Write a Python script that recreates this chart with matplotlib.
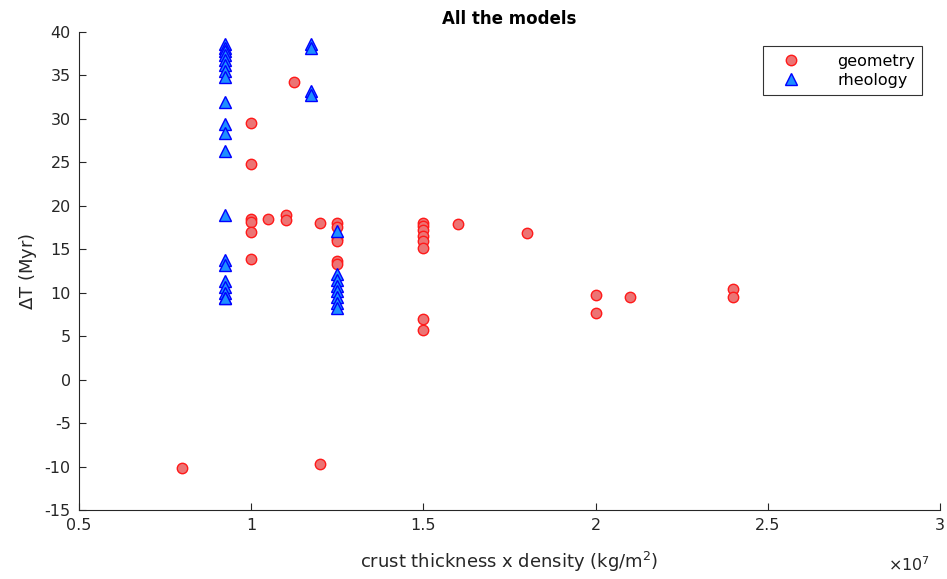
import numpy as np
import matplotlib.pyplot as plt
from matplotlib.ticker import FuncFormatter, MultipleLocator

# geometry runs: crust thickness x density (kg/m2), delta T (Myr)
geom_x = [0.8e7, 1.2e7,
          1.0e7, 1.0e7, 1.0e7, 1.0e7, 1.0e7, 1.0e7,
          1.05e7, 1.1e7, 1.1e7, 1.125e7, 1.2e7,
          1.25e7, 1.25e7, 1.25e7, 1.25e7, 1.25e7, 1.25e7,
          1.5e7, 1.5e7, 1.5e7, 1.5e7, 1.5e7, 1.5e7, 1.5e7, 1.5e7,
          1.6e7, 1.8e7, 2.0e7, 2.0e7, 2.1e7, 2.4e7, 2.4e7]
geom_dt = [-10.2, -9.7,
           29.5, 24.8, 18.5, 18.2, 17.0, 13.9,
           18.5, 18.9, 18.4, 34.2, 18.0,
           18.0, 17.6, 16.2, 16.0, 13.7, 13.3,
           18.0, 17.7, 17.2, 16.5, 16.0, 15.2, 7.0, 5.7,
           17.9, 16.9, 9.8, 7.7, 9.5, 10.4, 9.5]

# rheology runs
rheo_x = [0.925e7] * 20 + [1.175e7] * 4 + [1.25e7] * 8
rheo_dt = [38.6, 38.2, 37.8, 37.3, 36.8, 36.2, 35.5, 34.8,
           32.0, 29.4, 28.4, 26.3, 19.0,
           13.8, 13.2, 11.4, 10.7, 10.0, 9.4, 9.4,
           38.6, 38.2, 33.2, 32.7,
           17.1, 12.2, 11.5, 10.8, 10.2, 9.5, 8.8, 8.3]

plt.rcParams['font.family'] = 'DejaVu Sans'
gray = '#262626'

fig = plt.figure(figsize=(9.47, 5.79), dpi=100)
ax = fig.add_axes([0.0834, 0.119, 0.9092, 0.8257])

ax.plot(geom_x, geom_dt, 'o', ms=7.5, mfc='#ec7474', mec='#ff1a1a', mew=1.0,
        label='geometry', zorder=3)
ax.plot(rheo_x, rheo_dt, '^', ms=8, mfc='#1e8fff', mec='#0000ff', mew=1.0,
        label='rheology', zorder=3)

ax.set_xlim(0.5e7, 3.0e7)
ax.set_ylim(-15, 40)
ax.xaxis.set_major_locator(MultipleLocator(0.5e7))
ax.yaxis.set_major_locator(MultipleLocator(5))
ax.xaxis.set_major_formatter(FuncFormatter(lambda v, p: '%g' % (v / 1e7)))
ax.yaxis.set_major_formatter(FuncFormatter(lambda v, p: '%g' % v))

for s in ['top', 'right']:
    ax.spines[s].set_visible(False)
for s in ['left', 'bottom']:
    ax.spines[s].set_color(gray)
    ax.spines[s].set_linewidth(0.8)
ax.tick_params(direction='in', length=5, width=0.8, colors=gray,
               labelsize=11.5, pad=6)

ax.set_xlabel('crust thickness x density (kg/m$^2$)', fontsize=13, color=gray,
              labelpad=12)
ax.set_ylabel(r'$\Delta$T (Myr)', fontsize=13, color=gray, labelpad=4)
ax.set_title('All the models', fontsize=12, fontweight='bold', pad=6)
ax.text(0.988, -0.095, r'$\times$10$^7$', transform=ax.transAxes, ha='right',
        va='top', fontsize=11.5, color=gray)

leg = ax.legend(loc='upper right', bbox_to_anchor=(0.985, 0.98),
                fancybox=False, edgecolor='black', fontsize=11.5,
                handletextpad=1.6, borderpad=0.45, labelspacing=0.25,
                handlelength=2.6, borderaxespad=0.3)
leg.get_frame().set_linewidth(0.8)

fig.savefig('out.png', dpi=100, facecolor='white')
